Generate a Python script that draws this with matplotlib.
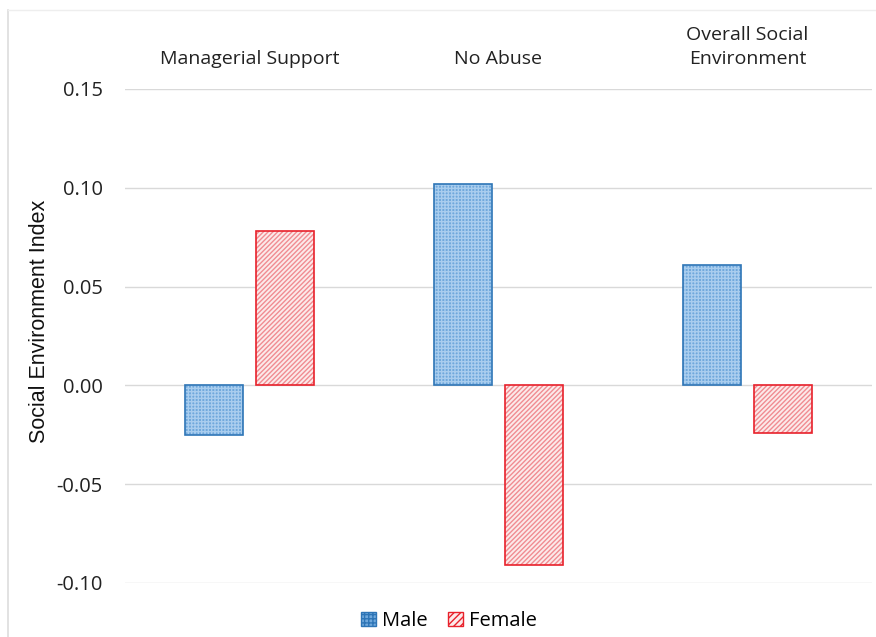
import matplotlib.pyplot as plt
from matplotlib.patches import Patch
from matplotlib.lines import Line2D
import numpy as np

categories = ["Managerial Support", "No Abuse", "Overall Social\nEnvironment"]
male = [-0.025, 0.102, 0.061]
female = [0.078, -0.091, -0.024]
yticks = [-0.10, -0.05, 0.00, 0.05, 0.10, 0.15]

plt.rcParams['font.family'] = ['Open Sans', 'DejaVu Sans']

fig = plt.figure(figsize=(8.76, 6.37), dpi=100)
ax = fig.add_axes([125 / 876, 54 / 637, 747 / 876, 494 / 637])

x = np.arange(len(categories))
w = 0.23
off = 0.143

# male: light blue with a small check pattern
ax.bar(x - off, male, w, color='#6FA8DC', hatch='+++++', edgecolor='#A9CDEE', linewidth=0, zorder=3)
ax.bar(x - off, male, w, fill=False, edgecolor='#2E75B6', linewidth=1.2, zorder=4)
# female: white with red diagonal lines
ax.bar(x + off, female, w, color='#FCEAEA', hatch='///////', edgecolor='#F08C92', linewidth=0, zorder=3)
ax.bar(x + off, female, w, fill=False, edgecolor='#E8212B', linewidth=1.2, zorder=4)

ax.set_xlim(-0.5, 2.5)
ax.set_ylim(-0.10, 0.15)
ax.set_yticks(yticks)
ax.set_yticklabels([f"{v:.2f}" for v in yticks], fontsize=14.5, color='#222222')
ax.tick_params(axis='y', length=0, pad=16)
ax.set_xticks([])
ax.grid(axis='y', color='#D9D9D9', linewidth=1, zorder=0)
for s in ax.spines.values():
    s.set_visible(False)

for i, name in enumerate(categories):
    ax.text(i, 0.1627, name, ha='center', va='baseline', fontsize=14,
            color='#222222', linespacing=1.4, clip_on=False)

ax.set_ylabel("Social Environment Index", fontsize=15.5, family='Liberation Sans',
              color='#111111')
ax.yaxis.set_label_coords(-0.100, 0.53)

handles = [
    Patch(facecolor='#6FA8DC', hatch='++++', edgecolor='#2E75B6', label='Male'),
    Patch(facecolor='#FCEAEA', hatch='/////', edgecolor='#E8212B', label='Female'),
]
fig.legend(handles=handles, loc='center', bbox_to_anchor=(449 / 876, 1 - 621 / 637),
           ncol=2, frameon=False, fontsize=14.5, handlelength=0.75, handleheight=0.75,
           handletextpad=0.3, columnspacing=1.0)

# faint outer chart border
fig.add_artist(Line2D([8 / 876, 8 / 876], [0, 1 - 10 / 637], color='#DDDDDD', linewidth=1.2))
fig.add_artist(Line2D([8 / 876, 1], [1 - 10 / 637, 1 - 10 / 637], color='#EEEEEE', linewidth=1))

fig.savefig("out.png", dpi=100)
